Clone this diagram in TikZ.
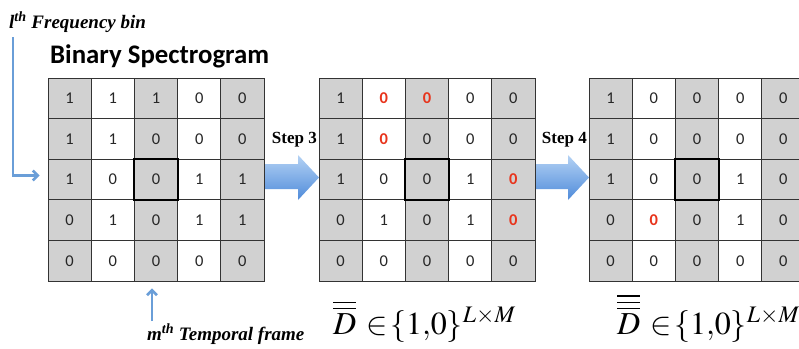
\documentclass[tikz,border=0pt]{standalone}
\usepackage{mathptmx}
\usepackage{fontspec}
\setmainfont{Liberation Serif}
\newfontfamily\cellfont{Carlito}
\usetikzlibrary{arrows.meta,calc}

\definecolor{cellgray}{HTML}{D1D1D1}
\definecolor{gridline}{HTML}{333333}
\definecolor{pointer}{HTML}{6A9ED8}
\definecolor{flowtop}{HTML}{B4D2F4}
\definecolor{flowbot}{HTML}{4F8BDA}
\definecolor{hlred}{HTML}{E8341C}

\newcommand\rz{\textcolor{hlred}{\bfseries 0}}

\tikzset{
  cell/.style={draw=gridline, line width=0.7pt, minimum width=43.2pt,
    minimum height=40.6pt, inner sep=0pt, font=\cellfont\fontsize{16.5}{18}\selectfont,
    text=black!85},
  focus/.style={draw=black, line width=1.8pt},
  flow/.style={top color=flowtop, bottom color=flowbot, draw=none},
  pointer/.style={draw=pointer, line width=2.6pt, -{Straight Barb[length=5pt,width=10pt]}},
  steplabel/.style={font=\bfseries\fontsize{17}{19}\selectfont, inner sep=0pt},
  caption/.style={font=\bfseries\itshape\fontsize{19}{21}\selectfont, inner sep=0pt},
  formula/.style={font=\fontsize{32}{36}\selectfont, inner sep=0pt}
}

% one 5x5 grid of cells; #1 name, #2 left x, #3 rows
\newcommand\cellgrid[3]{%
  \foreach \row [count=\r] in {#3} {
    \foreach \v [count=\c] in \row {
      \ifodd\c\def\fc{cellgray}\else\def\fc{white}\fi
      \node[cell, fill=\fc] (#1-\r-\c) at ({#2+(\c-0.5)*43.2}, {78+(\r-0.5)*40.6}) {\v};
    }
  }
  \draw[focus] (#1-3-3.north west) rectangle (#1-3-3.south east);
}

% membership of a barred matrix in {1,0}^{L x M}
\newcommand\member[1]{$#1\mskip6mu{\in}\mskip1mu\{1{,}0\}^{L\times M}$}

\begin{document}
\begin{tikzpicture}[x=1pt, y=-1pt]
\useasboundingbox (0,0) rectangle (799,348);
\clip (0,0) rectangle (799,348);

% block arrows between the grids (drawn first, the grids cover their tails)
\path[flow] (255,164) -- (298,164) -- (298,155) -- (319,177.5) -- (298,200)
  -- (298,189) -- (255,189) -- cycle;
\path[flow] (526,164) -- (568,164) -- (568,155) -- (589,177.5) -- (568,200)
  -- (568,189) -- (526,189) -- cycle;

% the three grids
\cellgrid{A}{48}{{1,1,1,0,0},{1,1,0,0,0},{1,0,0,1,1},{0,1,0,1,1},{0,0,0,0,0}}
\cellgrid{B}{319}{{1,\rz,\rz,0,0},{1,\rz,0,0,0},{1,0,0,1,\rz},{0,1,0,1,\rz},{0,0,0,0,0}}
\cellgrid{C}{589}{{1,0,0,0,0},{1,0,0,0,0},{1,0,0,1,0},{0,\rz,0,1,0},{0,0,0,0,0}}

% titles and labels
\node[anchor=base west, inner sep=0pt, font=\cellfont\bfseries\fontsize{26.8}{30}\selectfont]
  (title) at (50,63) {Binary Spectrogram};
\node[caption, anchor=base west] (fbin) at (9,28) {l\textsuperscript{th} Frequency bin};
\node[caption, anchor=base west] (tframe) at (147,340) {m\textsuperscript{th} Temporal frame};
\node[steplabel, anchor=base east] (s3) at (317,143) {Step 3};
\node[steplabel, anchor=base east] (s4) at (587,143) {Step 4};

% pointers to the highlighted row and column
\coordinate (fstart) at (13,37);
\coordinate (tstart) at (152,321);
\coordinate (tend) at ([yshift=-7pt]A-5-3.south);
\draw[pointer] (fstart) |- ([xshift=-8pt,yshift=4pt]A-3-1.west);
\draw[pointer] (tstart) -- (tstart |- tend);

% set membership formulas
\node[formula, anchor=base west] (f2) at (333,334)
  {\member{\overline{\overline{D}}}};
\node[formula, anchor=base west] (f3) at (617,334)
  {\member{\overline{\overline{\overline{D}}}}};
\end{tikzpicture}
\end{document}
